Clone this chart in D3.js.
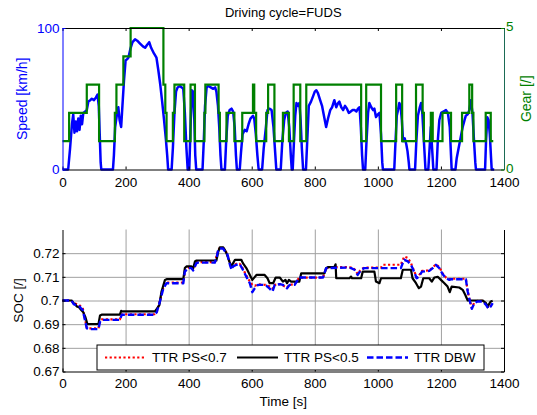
<!DOCTYPE html>
<html>
<head>
<meta charset="utf-8">
<script src="https://cdn.jsdelivr.net/npm/d3@7"></script>
<style>
  body { margin: 0; background: #fff; }
  svg text { font-family: Arial, "Liberation Sans", sans-serif; }
</style>
</head>
<body>
<svg id="chart" width="537" height="415"></svg>
<script>
// ---- data ----
const titleText = "Driving cycle=FUDS";
const timeTicks = [0, 200, 400, 600, 800, 1000, 1200, 1400];
const speedTicks = [0, 100];
const gearTicks = [0, 5];
const socTicks = [0.67, 0.68, 0.69, 0.7, 0.71, 0.72];

// [time s, speed km/h]
const speedPoints = [
  [0,0],[18,0],[24,15],[30,32],[34,39],[38,26],[42,34],[46,27],[50,36],[54,28],[58,38],[62,32],[66,40],
  [72,41],[77,42],[82,48],[88,49],[93,50],[100,49],[106,51],[111,53],[115,45],[118,25],[121,5],[123,0],
  [160,0],[163,10],[167,30],[172,38],[177,44],[181,35],[186,30],[190,45],[195,63],[200,77],[205,78],
  [209,79],[215,85],[222,90],[230,92],[237,91],[246,89],[255,87],[262,86],[268,88],[275,90],[281,86],
  [290,82],[298,79],[304,70],[310,60],[316,48],[322,35],[328,21],[332,10],[335,0],
  [346,0],[350,15],[355,40],[360,55],[365,58],[372,59],[378,58],[383,57],[388,40],[393,15],[397,0],
  [402,0],[406,30],[410,56],[414,55],[418,35],[421,10],[424,0],[444,0],[448,20],[452,45],[457,58],
  [462,59],[470,58],[478,57],[484,58],[488,55],[493,45],[497,30],[501,10],[504,0],
  [515,0],[519,20],[524,38],[530,42],[536,43],[541,41],[546,30],[550,10],[553,0],[562,0],[566,12],
  [571,25],[578,28],[584,27],[590,32],[596,36],[604,38],[608,36],[613,25],[618,10],[622,0],[633,0],
  [638,15],[645,30],[650,42],[657,43],[663,42],[669,30],[675,10],[678,0],[692,0],[697,20],[703,35],
  [708,40],[714,41],[719,30],[724,10],[727,0],[730,0],[734,20],[738,38],[742,47],[747,45],[751,47],
  [755,35],[759,15],[763,0],[772,0],[776,20],[781,45],[788,48],[795,52],[800,55],[805,56],[810,54],
  [817,49],[823,45],[829,38],[836,30],[842,36],[849,42],[855,44],[862,49],[868,44],[874,47],[878,48],
  [884,44],[890,42],[896,45],[902,43],[908,40],[914,41],[920,42],[926,42],[932,41],[937,43],[942,44],
  [946,30],[950,10],[953,0],[960,0],[964,20],[969,40],[973,47],[979,44],[985,42],[989,43],[994,37],
  [1000,39],[1005,40],[1010,25],[1014,5],[1016,0],
  [1052,0],[1056,20],[1060,38],[1064,42],[1068,47],[1072,45],[1076,35],[1080,20],[1085,22],[1090,18],
  [1094,13],[1098,5],[1100,0],[1118,0],[1122,20],[1127,38],[1133,44],[1137,47],[1141,40],[1146,20],
  [1151,0],[1160,0],[1164,15],[1168,30],[1172,15],[1176,0],[1186,0],[1190,20],[1195,35],[1201,40],
  [1208,41],[1216,42],[1222,40],[1228,30],[1232,10],[1234,0],[1246,0],[1250,8],[1256,15],[1262,22],
  [1269,30],[1275,35],[1279,38],[1285,39],[1290,42],[1295,49],[1300,40],[1305,20],[1309,5],[1311,0],
  [1340,0],[1343,20],[1347,37],[1351,35],[1355,25],[1359,8],[1361,0],[1369,0]
];

// [time s, gear] at each gear change
const gearPoints = [
  [0,1],[21,2],[77,3],[116,1],[166,2],[171,3],[193,4],[216,5],[320,3],[326,2],[330,1],
  [350,2],[355,3],[386,1],[406,3],[420,1],[450,2],[453,3],[495,2],[499,1],[520,2],[545,1],
  [570,2],[604,3],[608,2],[614,1],[646,2],[652,3],[672,1],[699,2],[718,1],[733,3],[754,1],
  [773,3],[947,1],[963,3],[1010,1],[1058,3],[1077,1],[1121,3],[1142,2],[1146,1],[1168,2],
  [1174,1],[1205,2],[1232,1],[1267,2],[1290,3],[1299,2],[1303,1],[1342,2],[1358,1],[1366,1]
];

// [time s, SOC] for each controller
const ps07Points = [
  [0,0.700],[29,0.700],[35,0.6989],[45,0.6985],[52,0.6982],[58,0.6975],[64,0.6970],[70,0.6930],
  [77,0.6885],[82,0.6882],[114,0.6882],[119,0.6912],[124,0.6920],[182,0.6920],[188,0.6942],[293,0.6942],
  [299,0.6953],[309,0.6998],[320,0.7055],[330,0.7076],[383,0.7076],[388,0.7125],[398,0.7139],[409,0.7139],
  [414,0.7130],[425,0.7160],[430,0.7162],[483,0.7162],[490,0.7195],[494,0.7214],[499,0.7222],[509,0.7222],
  [514,0.7212],[522,0.7200],[531,0.7155],[536,0.7137],[541,0.7148],[552,0.7155],[562,0.7155],[572,0.7135],
  [583,0.7105],[594,0.7080],[602,0.7066],[610,0.7062],[620,0.7068],[646,0.7066],[657,0.7059],[666,0.7050],
  [673,0.7066],[689,0.7069],[699,0.7063],[712,0.7055],[720,0.7066],[736,0.7069],[751,0.7097],[826,0.7097],
  [836,0.7137],[862,0.7141],[900,0.7141],[915,0.7139],[926,0.7132],[936,0.7112],[947,0.7132],[957,0.7139],
  [1010,0.7139],[1016,0.7151],[1073,0.7151],[1079,0.7172],[1084,0.7186],[1095,0.7180],[1105,0.7158],
  [1115,0.7125],[1123,0.7097],[1130,0.7105],[1140,0.7125],[1163,0.7127],[1174,0.7139],[1184,0.7153],
  [1195,0.7141],[1205,0.7115],[1216,0.7097],[1227,0.7090],[1232,0.7092],[1279,0.7092],[1285,0.7040],
  [1292,0.6998],[1298,0.6968],[1306,0.6992],[1316,0.6998],[1332,0.6998],[1343,0.6985],[1351,0.6968],
  [1358,0.6978],[1364,0.6990]
];
const ps05Points = [
  [0,0.700],[29,0.700],[35,0.6989],[40,0.6985],[45,0.6975],[52,0.6972],[58,0.6962],[66,0.6950],
  [72,0.6932],[79,0.6900],[114,0.6900],[119,0.6937],[124,0.6940],[182,0.6940],[186,0.6956],[188,0.6954],
  [293,0.6954],[299,0.6965],[307,0.6980],[314,0.7038],[325,0.7087],[330,0.7090],[383,0.7090],[388,0.7137],
  [393,0.7144],[409,0.7144],[414,0.7134],[420,0.7165],[425,0.7169],[488,0.7169],[494,0.7207],[499,0.7225],
  [509,0.7225],[515,0.7214],[522,0.7193],[529,0.7165],[536,0.7144],[541,0.7158],[547,0.7172],[567,0.7172],
  [572,0.7158],[583,0.7137],[594,0.7108],[602,0.7087],[610,0.7100],[615,0.7108],[641,0.7108],[650,0.7094],
  [657,0.7073],[668,0.7073],[676,0.7097],[689,0.7097],[699,0.7080],[707,0.7087],[712,0.7073],[718,0.7087],
  [725,0.7080],[751,0.7080],[757,0.7115],[831,0.7115],[836,0.7137],[841,0.7141],[862,0.7141],[866,0.7153],
  [868,0.7094],[910,0.7094],[915,0.7101],[918,0.7094],[947,0.7094],[952,0.7122],[989,0.7122],[994,0.7080],
  [1005,0.7073],[1010,0.7094],[1073,0.7094],[1079,0.7130],[1105,0.7130],[1110,0.7094],[1121,0.7073],
  [1130,0.7052],[1137,0.7059],[1144,0.7094],[1163,0.7094],[1171,0.7080],[1179,0.7097],[1190,0.7100],
  [1200,0.7087],[1211,0.7073],[1221,0.7059],[1228,0.7035],[1234,0.7059],[1258,0.7055],[1269,0.7045],
  [1277,0.7024],[1285,0.7000],[1332,0.7000],[1343,0.6989],[1348,0.6975],[1358,0.6996],[1364,0.6999]
];
const dbwPoints = [
  [0,0.700],[29,0.700],[35,0.6985],[45,0.6980],[52,0.6978],[58,0.6968],[64,0.6960],[70,0.6925],
  [77,0.6883],[82,0.6879],[114,0.6879],[119,0.6910],[124,0.6918],[182,0.6918],[188,0.6940],[293,0.6940],
  [299,0.6951],[309,0.6996],[320,0.7052],[330,0.7073],[383,0.7073],[388,0.7122],[398,0.7137],[409,0.7137],
  [414,0.7127],[425,0.7158],[430,0.7160],[483,0.7160],[490,0.7190],[494,0.7214],[499,0.7220],[509,0.7220],
  [514,0.7210],[522,0.7200],[531,0.7151],[536,0.7130],[541,0.7144],[552,0.7151],[562,0.7154],[572,0.7130],
  [583,0.7100],[594,0.7073],[602,0.7035],[610,0.7052],[620,0.7066],[636,0.7066],[646,0.7063],[657,0.7050],
  [666,0.7038],[673,0.7066],[689,0.7069],[699,0.7066],[712,0.7052],[720,0.7066],[736,0.7066],[751,0.7097],
  [826,0.7097],[836,0.7137],[900,0.7139],[915,0.7137],[926,0.7130],[936,0.7108],[947,0.7130],[957,0.7137],
  [1073,0.7137],[1079,0.7158],[1084,0.7172],[1095,0.7165],[1105,0.7151],[1115,0.7122],[1123,0.7094],
  [1130,0.7101],[1140,0.7122],[1163,0.7125],[1174,0.7137],[1184,0.7151],[1195,0.7137],[1205,0.7112],
  [1216,0.7094],[1227,0.7087],[1232,0.7090],[1279,0.7090],[1285,0.7038],[1292,0.6996],[1298,0.6965],
  [1306,0.6989],[1316,0.6996],[1332,0.6996],[1343,0.6982],[1351,0.6965],[1358,0.6975],[1364,0.6989]
];

const socSeries = [
  { name: "TTR PS<0.7", points: ps07Points, color: "#ff0000", width: 2.2, dash: "2.2,2.4" },
  { name: "TTR PS<0.5", points: ps05Points, color: "#000000", width: 2.2, dash: null },
  { name: "TTR DBW",    points: dbwPoints,  color: "#0000ff", width: 2.4, dash: "6.5,3" }
];

// ---- layout ----
const svg = d3.select("#chart");
const FONT = 13.5;
const left = 62.5, right = 504;
const top1 = 28, bottom1 = 169.5;
const top2 = 229.5, bottom2 = 371.5;

const x = d3.scaleLinear().domain([0, 1400]).range([left, right]);
const ySpeed = d3.scaleLinear().domain([0, 100]).range([bottom1, top1]);
const yGear = d3.scaleLinear().domain([0, 5]).range([bottom1, top1]);
const ySoc = d3.scaleLinear().domain([0.67, 0.73]).range([bottom2, top2]);

const speedBlue = "#0000ff";
const gearGreen = "#008000";
const intFmt = d3.format("d");

function styleAxis(g, color) {
  g.selectAll("path").attr("stroke", color).attr("stroke-width", 1);
  g.selectAll("line").attr("stroke", color);
  g.selectAll("text").attr("fill", color).style("font-size", FONT + "px")
    .style("font-family", "Arial, 'Liberation Sans', sans-serif");
}

// ---- top panel: speed & gear ----
svg.append("text")
  .attr("x", (left + right) / 2).attr("y", 17)
  .attr("text-anchor", "middle").style("font-size", "13px")
  .text(titleText);

const speedLine = d3.line().x(d => x(d[0])).y(d => ySpeed(d[1]));
svg.append("path").datum(speedPoints)
  .attr("d", speedLine).attr("fill", "none")
  .attr("stroke", speedBlue).attr("stroke-width", 2.5).attr("stroke-linejoin", "round");

const gearLine = d3.line().x(d => x(d[0])).y(d => yGear(d[1])).curve(d3.curveStepAfter);
svg.append("path").datum(gearPoints)
  .attr("d", gearLine).attr("fill", "none")
  .attr("stroke", gearGreen).attr("stroke-width", 2.2);

svg.append("g").attr("transform", `translate(0,${bottom1})`)
  .call(d3.axisBottom(x).tickValues(timeTicks).tickFormat(intFmt)
    .tickSizeInner(-3).tickSizeOuter(0).tickPadding(8))
  .call(g => styleAxis(g, "#000"));
svg.append("g").attr("transform", `translate(0,${top1})`)
  .call(d3.axisTop(x).tickValues(timeTicks).tickSizeInner(-3).tickSizeOuter(0).tickFormat(""))
  .call(g => styleAxis(g, "#000"));
svg.append("g").attr("transform", `translate(${left},0)`)
  .call(d3.axisLeft(ySpeed).tickValues(speedTicks).tickFormat(intFmt)
    .tickSizeInner(-3).tickSizeOuter(0).tickPadding(3))
  .call(g => styleAxis(g, speedBlue));
svg.append("g").attr("transform", `translate(${right},0)`)
  .call(d3.axisRight(yGear).tickValues(gearTicks).tickFormat(intFmt)
    .tickSizeInner(-3).tickSizeOuter(0).tickPadding(2))
  .call(g => styleAxis(g, gearGreen))
  .call(g => g.selectAll("text").attr("dy", "0.2em"))
  .call(g => g.select(".domain").attr("stroke", "#1b6b55"));

svg.append("text")
  .attr("transform", `translate(22,${(top1 + bottom1) / 2}) rotate(-90)`)
  .attr("text-anchor", "middle").attr("dy", "0.35em")
  .attr("fill", speedBlue).style("font-size", "14px")
  .text("Speed [km/h]");
svg.append("text")
  .attr("transform", `translate(526,${(top1 + bottom1) / 2}) rotate(-90)`)
  .attr("text-anchor", "middle").attr("dy", "0.35em")
  .attr("fill", gearGreen).style("font-size", "14px")
  .text("Gear [/]");

// ---- bottom panel: SOC ----
const gridColor = "#a0a0a0";
svg.append("g").attr("transform", `translate(0,${bottom2})`)
  .call(d3.axisBottom(x).tickValues(timeTicks.slice(1, -1)).tickSize(-(bottom2 - top2)).tickFormat(""))
  .call(g => g.select(".domain").remove())
  .call(g => g.selectAll("line").attr("stroke", gridColor).attr("stroke-width", 1));
svg.append("g").attr("transform", `translate(${left},0)`)
  .call(d3.axisLeft(ySoc).tickValues(socTicks.slice(1)).tickSize(-(right - left)).tickFormat(""))
  .call(g => g.select(".domain").remove())
  .call(g => g.selectAll("line").attr("stroke", gridColor).attr("stroke-width", 1));

const socLine = d3.line().x(d => x(d[0])).y(d => ySoc(d[1]));
socSeries.forEach(s => {
  svg.append("path").datum(s.points)
    .attr("d", socLine).attr("fill", "none")
    .attr("stroke", s.color).attr("stroke-width", s.width)
    .attr("stroke-dasharray", s.dash)
    .attr("stroke-linejoin", "round");
});

svg.append("g").attr("transform", `translate(0,${bottom2})`)
  .call(d3.axisBottom(x).tickValues(timeTicks).tickFormat(intFmt)
    .tickSizeInner(-3).tickSizeOuter(0).tickPadding(7))
  .call(g => styleAxis(g, "#000"));
svg.append("g").attr("transform", `translate(${left},0)`)
  .call(d3.axisLeft(ySoc).tickValues(socTicks).tickFormat(d3.format("~g"))
    .tickSizeInner(-3).tickSizeOuter(0).tickPadding(3))
  .call(g => styleAxis(g, "#000"));
svg.append("g").attr("transform", `translate(${right},0)`)
  .call(d3.axisRight(ySoc).tickValues(socTicks).tickSizeInner(-3).tickSizeOuter(0).tickFormat(""))
  .call(g => styleAxis(g, "#000"));

svg.append("text")
  .attr("transform", `translate(18,${(top2 + bottom2) / 2}) rotate(-90)`)
  .attr("text-anchor", "middle").attr("dy", "0.35em")
  .style("font-size", FONT + "px")
  .text("SOC [/]");
svg.append("text")
  .attr("x", (left + right) / 2).attr("y", 406)
  .attr("text-anchor", "middle").style("font-size", FONT + "px")
  .text("Time [s]");

// legend
const legend = svg.append("g");
legend.append("rect")
  .attr("x", 97).attr("y", 345).attr("width", 387).attr("height", 25)
  .attr("fill", "#fff").attr("stroke", "#000").attr("stroke-width", 1);
const legendX = [105, 237, 367];
socSeries.forEach((s, i) => {
  const lx = legendX[i];
  legend.append("line")
    .attr("x1", lx).attr("x2", lx + 41).attr("y1", 357.5).attr("y2", 357.5)
    .attr("stroke", s.color).attr("stroke-width", s.width)
    .attr("stroke-dasharray", s.dash);
  legend.append("text")
    .attr("x", lx + 47).attr("y", 357.5).attr("dy", "0.35em")
    .style("font-size", FONT + "px")
    .text(s.name);
});
</script>
</body>
</html>
